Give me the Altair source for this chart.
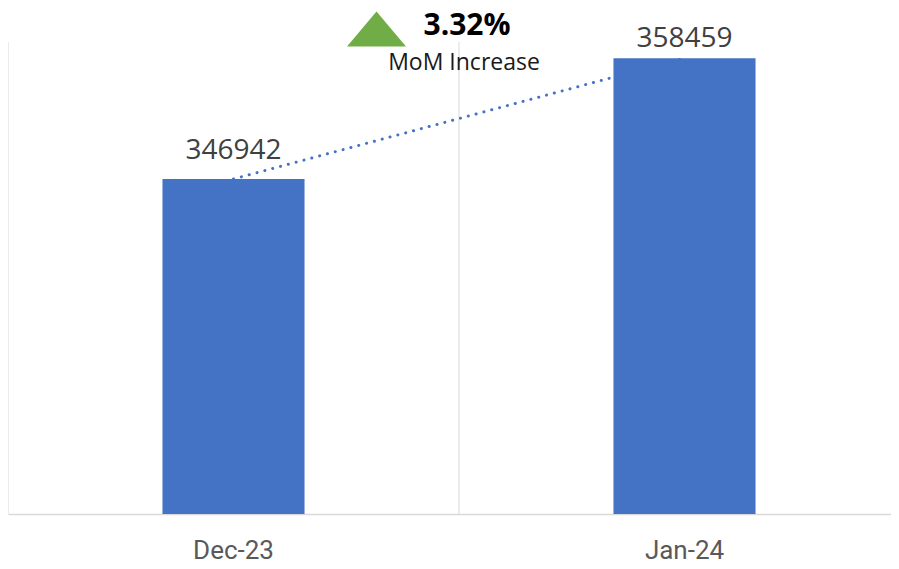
import altair as alt
import pandas as pd

months = ["Dec-23", "Jan-24"]
values = [346942, 358459]

change_pct = (values[1] - values[0]) / values[0] * 100
pct_label = f"{change_pct:.2f}%"
sub_label = "MoM Increase" if change_pct >= 0 else "MoM Decrease"

df = pd.DataFrame({"month": months, "value": values})
ann = pd.DataFrame({"pct": [pct_label], "sub": [sub_label]})

BLUE = "#4472C4"
GREEN = "#70AD47"
GRID = "#d9d9d9"
FONT = "Open Sans"

W, H = 883, 472
xscale = alt.Scale(domain=months, range=[0, 902], paddingInner=0, paddingOuter=0)
yscale = alt.Scale(domain=[315000, 360000], zero=False, nice=False)

xaxis = alt.Axis(
    title=None,
    labelAngle=0,
    ticks=False,
    tickSize=0,
    grid=False,
    domain=True,
    domainColor=GRID,
    domainWidth=1.5,
    labelFont="Roboto",
    labelFontSize=26,
    labelColor="#595959",
    labelBaseline="alphabetic",
    labelPadding=44,
)

base = alt.Chart(df)

bars = base.mark_bar(color=BLUE, width={"band": 0.315}, clip=True).encode(
    x=alt.X("month:N", scale=xscale, sort=months, axis=xaxis),
    y=alt.Y("value:Q", scale=yscale, axis=None),
)

grid = base.mark_rule(color=GRID, strokeWidth=1).encode(
    x=alt.X("month:N", scale=xscale, bandPosition=0),
    y=alt.value(0),
    y2=alt.value(H),
)

trend = base.mark_line(
    color=BLUE, strokeWidth=3, strokeDash=[0.1, 8], strokeCap="round"
).encode(
    x=alt.X("month:N", scale=xscale),
    y=alt.Y("value:Q", scale=yscale),
)

lbl_dec = base.transform_filter(alt.datum.month == months[0]).mark_text(
    font=FONT, fontSize=28, color="#404040", baseline="alphabetic", dy=-20
).encode(
    x=alt.X("month:N", scale=xscale),
    y=alt.Y("value:Q", scale=yscale),
    text="value:Q",
)
lbl_jan = base.transform_filter(alt.datum.month == months[1]).mark_text(
    font=FONT, fontSize=28, color="#404040", baseline="alphabetic", dy=-11
).encode(
    x=alt.X("month:N", scale=xscale),
    y=alt.Y("value:Q", scale=yscale),
    text="value:Q",
)

abase = alt.Chart(ann)
tri = abase.mark_point(
    shape="M0,-0.593L1,0.593L-1,0.593Z",
    size=3481,
    filled=True,
    color=GREEN,
    opacity=1,
    strokeWidth=0,
).encode(x=alt.value(368.5), y=alt.value(-13))

pct_text = abase.mark_text(
    font=FONT, fontSize=30, fontWeight="bold", color="#000000", baseline="alphabetic"
).encode(x=alt.value(459), y=alt.value(-7), text="pct:N")

sub_text = abase.mark_text(
    font=FONT, fontSize=23, color="#1a1a1a", baseline="alphabetic"
).encode(x=alt.value(456), y=alt.value(28), text="sub:N")

chart = (
    alt.layer(bars, grid, trend, lbl_dec, lbl_jan, tri, pct_text, sub_text)
    .properties(
        width=W,
        height=H,
        autosize=alt.AutoSizeParams(type="none"),
        padding={"left": 0, "top": 34, "right": 0, "bottom": 47},
    )
    .configure(background="white")
    .configure_view(stroke=None)
)

chart.save("out.html", embed_options={"renderer": "svg", "actions": False})
